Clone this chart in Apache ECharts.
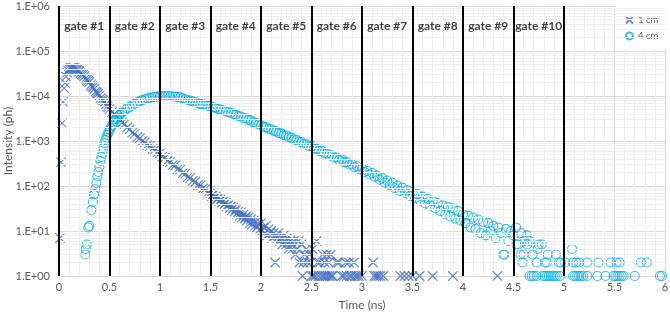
<!DOCTYPE html>
<html>
<head>
<meta charset="utf-8">
<script src="https://cdn.jsdelivr.net/npm/echarts@6/dist/echarts.min.js"></script>
<style>
  html, body { margin: 0; padding: 0; background: #fff; }
  #chart-container { width: 670px; height: 313px; }
</style>
</head>
<body>
<div id="chart-container"></div>
<script>
// time (ns), intensity (ph)
var cm1Points = [
    [0.01,7],[0.02,340],[0.03,2500],[0.04,7400],[0.05,15000],[0.06,19500],[0.07,27000],[0.08,33000],[0.09,37000],[0.1,40000],
    [0.11,41000],[0.12,42000],[0.13,41500],[0.14,42500],[0.15,41000],[0.16,40500],[0.17,39000],[0.18,38000],[0.19,36500],[0.2,35500],
    [0.2125,32000],[0.225,30500],[0.2375,29500],[0.25,27500],[0.2625,24500],[0.275,23000],[0.2875,21500],[0.3,20500],[0.3125,17500],[0.325,16400],
    [0.3375,15800],[0.35,14500],[0.3625,12600],[0.375,11800],[0.3875,11200],[0.4,10200],[0.4125,9000],[0.425,8400],[0.4375,8000],[0.45,7300],
    [0.4625,6400],[0.475,5900],[0.4875,5600],[0.5,5100],[0.525,4400],[0.55,4000],[0.575,3400],[0.6,3050],[0.625,2580],[0.65,2400],
    [0.675,2000],[0.7,1820],[0.725,1540],[0.75,1440],[0.775,1230],[0.8,1150],[0.825,990],[0.85,935],[0.875,810],[0.9,780],
    [0.925,670],[0.95,650],[0.975,560],[1.0,540],[1.025,455],[1.05,430],[1.075,360],[1.1,340],[1.125,292],[1.15,285],
    [1.175,238],[1.2,232],[1.225,192],[1.25,188],[1.275,157],[1.3,152],[1.325,130],[1.35,124],[1.375,104],[1.4,103],
    [1.425,88],[1.45,86],[1.475,71],[1.5,70],[1.5125,60],[1.525,64],[1.54,55],[1.55,58],[1.5625,50],[1.575,54],
    [1.59,46],[1.6,50],[1.6125,43],[1.625,45],[1.64,40],[1.65,42],[1.66,36],[1.675,37],[1.69,32],[1.7,35],
    [1.71,29],[1.725,33],[1.74,27],[1.75,30],[1.76,24],[1.775,27],[1.79,22],[1.8,26],[1.81,20],[1.825,23],
    [1.84,19],[1.85,21],[1.86,17],[1.875,20],[1.89,15],[1.9,18],[1.91,14],[1.925,17],[1.94,13],[1.95,16],
    [1.96,12],[1.975,14],[1.99,11],[2.0,15],[2.01,10],[2.025,12],[2.04,9],[2.05,13],[2.06,8],[2.075,11],
    [2.09,9],[2.1,10],[2.11,7],[2.125,9],[2.14,2],[2.15,8],[2.16,7],[2.175,9],[2.19,6],[2.2,7],
    [2.21,5],[2.225,8],[2.24,6],[2.25,5],[2.26,7],[2.275,4],[2.29,6],[2.3,5],[2.31,4],[2.325,6],
    [2.34,3],[2.36,4],[2.37,6],[2.38,2],[2.4,5],[2.41,1],[2.42,2],[2.43,3],[2.45,4],[2.46,2],
    [2.48,3],[2.49,2],[2.5,1],[2.51,4],[2.52,1],[2.54,1],[2.55,6],[2.56,2],[2.57,1],[2.58,2],
    [2.6,1],[2.61,3],[2.62,1],[2.63,2],[2.64,1],[2.65,3],[2.66,1],[2.67,2],[2.68,1],[2.69,3],
    [2.7,1],[2.71,1],[2.75,2],[2.77,2],[2.8,1],[2.82,1],[2.84,2],[2.85,1],[2.87,2],[2.88,1],
    [2.9,1],[2.92,2],[2.93,1],[2.95,1],[2.97,1],[3.0,1],[3.11,2],[3.12,1],[3.14,1],[3.16,1],
    [3.18,1],[3.21,1],[3.38,1],[3.42,1],[3.46,1],[3.5,1],[3.57,1],[3.7,1],[3.9,1],[4.34,1]
];

var cm4Points = [
    [0.26,3],[0.265,4],[0.275,5],[0.29,12],[0.3,13],[0.32,29],[0.335,44],[0.345,63],[0.35,66],[0.36,85],
    [0.37,117],[0.38,165],[0.39,205],[0.4,265],[0.41,360],[0.42,440],[0.43,540],[0.44,700],[0.45,900],[0.46,1050],
    [0.47,1200],[0.48,1380],[0.49,1560],[0.5,1780],[0.51,1980],[0.525,2200],[0.54,2550],[0.55,2800],[0.565,3050],[0.575,3300],
    [0.59,3550],[0.6,3800],[0.625,4300],[0.65,4800],[0.675,5300],[0.7,5750],[0.725,6300],[0.75,6750],[0.775,7200],[0.8,7600],
    [0.825,8100],[0.85,8500],[0.875,8800],[0.9,9100],[0.925,9350],[0.95,9550],[0.975,9700],[1.0,9800],[1.025,9950],[1.05,9900],
    [1.075,9850],[1.1,9900],[1.125,9750],[1.15,9700],[1.175,9500],[1.2,9300],[1.225,8900],[1.25,8500],[1.275,8150],[1.3,7850],
    [1.325,7500],[1.35,7250],[1.375,6900],[1.4,6700],[1.425,6450],[1.45,6300],[1.475,6050],[1.5,5900],[1.525,5600],[1.55,5450],
    [1.575,5150],[1.6,5000],[1.625,4750],[1.65,4650],[1.675,4350],[1.7,4250],[1.725,3950],[1.75,3850],[1.775,3600],[1.8,3500],
    [1.825,3250],[1.85,3200],[1.875,2950],[1.9,2850],[1.925,2600],[1.95,2550],[1.975,2320],[2.0,2250],[2.025,2080],[2.05,2020],
    [2.075,1870],[2.1,1830],[2.125,1680],[2.15,1640],[2.175,1500],[2.2,1480],[2.225,1350],[2.25,1330],[2.275,1210],[2.3,1190],
    [2.325,1080],[2.35,1060],[2.375,960],[2.4,950],[2.425,860],[2.45,850],[2.475,760],[2.5,760],[2.525,680],[2.55,670],
    [2.575,600],[2.6,610],[2.625,540],[2.65,530],[2.675,475],[2.7,480],[2.725,425],[2.75,430],[2.775,375],[2.8,390],
    [2.825,335],[2.85,340],[2.875,300],[2.9,305],[2.925,262],[2.95,275],[2.975,235],[3.0,245],[3.025,205],[3.05,215],
    [3.075,180],[3.1,195],[3.125,160],[3.15,170],[3.175,138],[3.2,150],[3.225,118],[3.25,132],[3.275,104],[3.3,118],
    [3.325,90],[3.35,102],[3.375,78],[3.4,92],[3.425,70],[3.45,80],[3.475,60],[3.5,72],[3.525,54],[3.55,66],
    [3.575,47],[3.6,58],[3.625,41],[3.65,52],[3.675,37],[3.7,46],[3.725,32],[3.75,42],[3.775,28],[3.8,37],
    [3.825,24],[3.85,34],[3.875,21],[3.9,32],[3.925,19],[3.95,28],[3.975,17],[4.0,24],[4.025,15],[4.05,22],
    [4.075,12],[4.1,20],[4.125,11],[4.15,18],[4.175,9],[4.2,16],[4.225,8],[4.25,15],[4.275,10],[4.3,13],
    [4.325,7],[4.35,12],[4.375,9],[4.4,3],[4.41,3],[4.425,11],[4.45,6],[4.475,10],[4.5,8],[4.525,12],
    [4.53,5],[4.55,5],[4.57,3],[4.575,9],[4.59,2],[4.6,3],[4.61,6],[4.63,8],[4.635,5],[4.66,6],
    [4.66,1],[4.68,1],[4.69,3],[4.7,1],[4.73,1],[4.73,2],[4.74,4],[4.75,5],[4.78,5],[4.79,1],
    [4.81,1],[4.81,2],[4.83,1],[4.83,2],[4.84,3],[4.85,1],[4.87,1],[4.89,1],[4.91,1],[4.92,3],
    [4.93,1],[4.95,2],[4.96,1],[4.97,2],[5.01,2],[5.08,4],[5.09,1],[5.09,2],[5.11,1],[5.12,2],
    [5.13,1],[5.15,1],[5.15,2],[5.17,1],[5.19,1],[5.23,1],[5.23,2],[5.33,1],[5.34,2],[5.41,1],
    [5.46,2],[5.49,1],[5.51,1],[5.52,2],[5.53,1],[5.55,1],[5.55,2],[5.57,1],[5.59,1],[5.7,1],
    [5.76,2],[5.82,2],[5.95,1],[5.97,1]
];

var gateEdges = [0, 0.5, 1, 1.5, 2, 2.5, 3, 3.5, 4, 4.5, 5];
var gateNames = ['gate #1', 'gate #2', 'gate #3', 'gate #4', 'gate #5', 'gate #6', 'gate #7', 'gate #8', 'gate #9', 'gate #10'];
var gateLabelLevel = 3.5e5;   // intensity at which the gate names sit
var yTickLabels = ['1.E+00', '1.E+01', '1.E+02', '1.E+03', '1.E+04', '1.E+05', '1.E+06'];

// log-spaced minor grid (2..9 per decade), like the spreadsheet minor gridlines
var minorY = [];
for (var k = 0; k < 6; k++) {
    for (var m = 2; m <= 9; m++) {
        minorY.push({yAxis: m * Math.pow(10, k)});
    }
}

var chartDom = document.getElementById('chart-container');
var myChart = echarts.init(chartDom, null, {renderer: 'canvas'});
var option;

var labelColor = '#595959';
var font = 'Lato';
var xSymbol = 'path://M0,0L10,10M10,0L0,10';

option = {
    animation: false,
    textStyle: {fontFamily: font},
    grid: {
        left: 59,
        right: 5,
        top: 6,
        bottom: 37,
        containLabel: false,
        outerBoundsMode: 'none'
    },
    legend: {
        data: [
            {name: '1 cm', icon: xSymbol},
            {name: '4 cm', icon: 'circle'}
        ],
        orient: 'vertical',
        left: 615,
        top: 6,
        padding: [9, 8, 9, 10],
        itemGap: 6,
        itemWidth: 7,
        itemHeight: 7,
        backgroundColor: '#fff',
        textStyle: {fontSize: 9.5, color: labelColor, fontFamily: font}
    },
    xAxis: {
        type: 'value',
        min: 0,
        max: 6,
        interval: 0.5,
        name: 'Time (ns)',
        nameLocation: 'middle',
        nameGap: 23,
        nameMoveOverlap: false,
        nameTextStyle: {fontSize: 12, color: labelColor, fontFamily: font},
        axisLine: {show: true, lineStyle: {color: '#d9d9d9'}},
        axisTick: {show: false},
        axisLabel: {fontSize: 11, color: labelColor, margin: 6, fontFamily: font},
        splitLine: {show: true, lineStyle: {color: '#d9d9d9'}},
        minorTick: {show: false, splitNumber: 5},
        minorSplitLine: {show: true, lineStyle: {color: '#efefef'}}
    },
    yAxis: {
        type: 'log',
        logBase: 10,
        min: 1,
        max: 1e6,
        name: 'Intensity (ph)',
        nameLocation: 'middle',
        nameGap: 45,
        nameMoveOverlap: false,
        nameTextStyle: {fontSize: 12, color: labelColor, fontFamily: font},
        axisLine: {show: false},
        axisTick: {show: false},
        axisLabel: {
            fontSize: 11,
            color: labelColor,
            margin: 9,
            fontFamily: font,
            formatter: function (value) {
                return yTickLabels[Math.round(Math.log10(value))];
            }
        },
        splitLine: {show: true, lineStyle: {color: '#d9d9d9'}}
    },
    series: [
        {
            // minor horizontal gridlines
            type: 'line',
            data: [],
            silent: true,
            z: 1,
            markLine: {
                silent: true,
                symbol: 'none',
                label: {show: false},
                lineStyle: {color: '#efefef', type: 'solid', width: 1},
                data: minorY
            }
        },
        {
            name: '1 cm',
            type: 'scatter',
            z: 2,
            symbol: xSymbol,
            symbolSize: 9.5,
            itemStyle: {color: 'rgba(0,0,0,0)', borderColor: '#4472C4', borderWidth: 1.2},
            data: cm1Points
        },
        {
            name: '4 cm',
            type: 'scatter',
            z: 3,
            symbol: 'circle',
            symbolSize: 9,
            itemStyle: {color: 'rgba(0,0,0,0)', borderColor: '#00B0F0', borderWidth: 1.1},
            data: cm4Points
        },
        {
            // gate boundaries
            type: 'line',
            data: [],
            silent: true,
            z: 5,
            markLine: {
                silent: true,
                symbol: 'none',
                label: {show: false},
                lineStyle: {color: '#000', type: 'solid', width: 2},
                data: gateEdges.map(function (t) { return {xAxis: t}; })
            }
        },
        {
            // gate names, centred in each gate
            type: 'scatter',
            silent: true,
            z: 6,
            symbolSize: 0,
            itemStyle: {color: 'rgba(0,0,0,0)'},
            label: {
                show: true,
                position: 'inside',
                color: '#111',
                fontWeight: 'bold',
                fontSize: 12,
                fontFamily: font,
                textBorderWidth: 0,
                formatter: function (p) { return p.name; }
            },
            data: gateNames.map(function (g, i) {
                return {name: g, value: [(gateEdges[i] + gateEdges[i + 1]) / 2, gateLabelLevel]};
            })
        }
    ]
};

option && myChart.setOption(option);
</script>
</body>
</html>
